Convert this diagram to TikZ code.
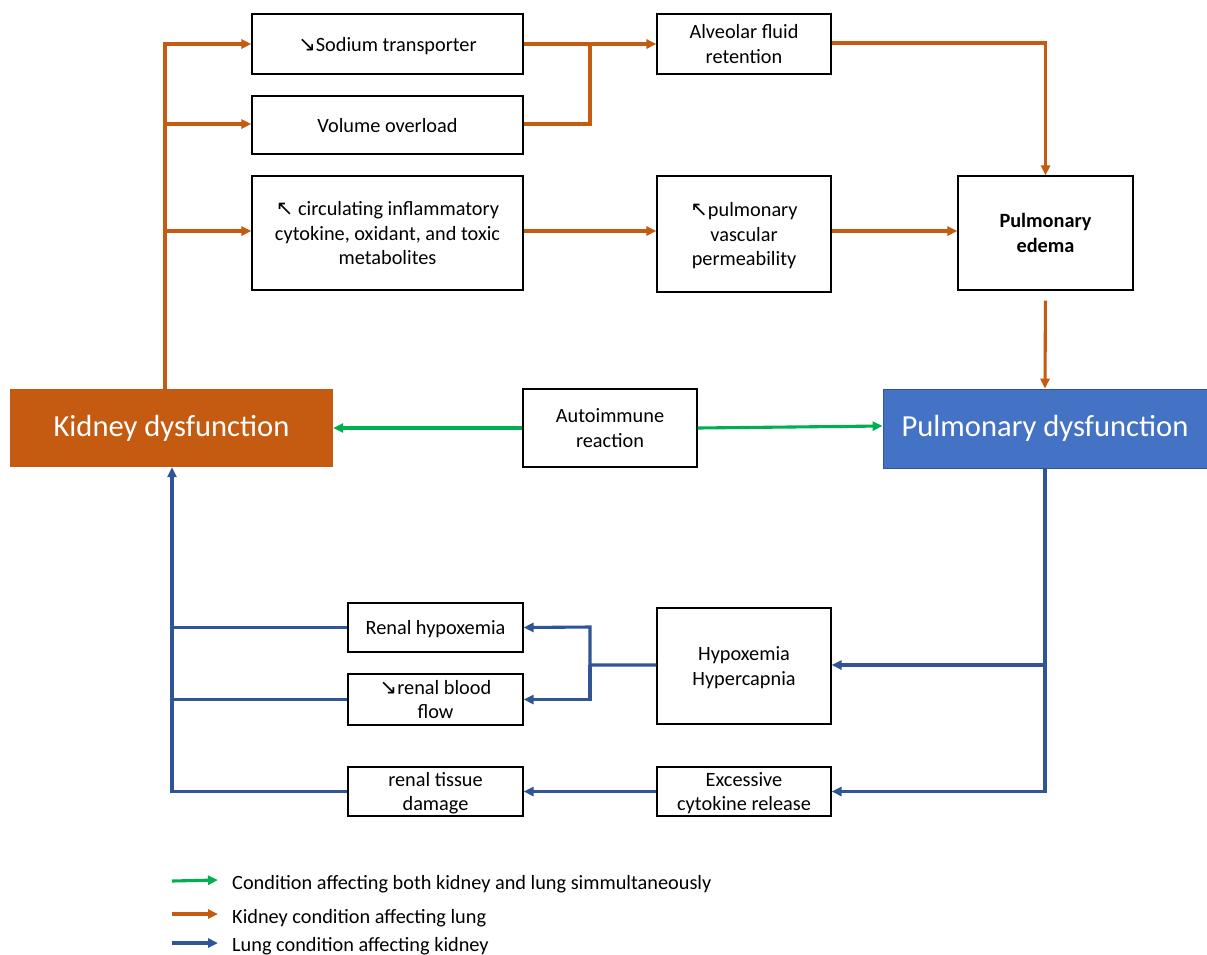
\documentclass[tikz,border=0pt]{standalone}
\usepackage{fontspec}
\setmainfont{Carlito}
\newfontfamily\symf{DejaVu Sans}
\usetikzlibrary{arrows.meta}
\definecolor{korange}{HTML}{C55A11}
\definecolor{kblue}{HTML}{4472C4}
\definecolor{lblue}{HTML}{2F5597}
\definecolor{cgreen}{HTML}{00B050}
\newcommand{\dn}{{\symf\fontsize{21}{21}\selectfont ↘}}
\newcommand{\upl}{{\symf\fontsize{21}{21}\selectfont ↖}}
\tikzset{
  box/.style={draw=black, line width=1.1pt, fill=white, align=center, inner sep=2pt, font=\fontsize{20.3}{24.5}\selectfont, text depth=0pt},
  big/.style={draw=none, align=center, text=white, font=\fontsize{30.6}{34}\selectfont},
  conn/.style={line width=3.1pt, -{Triangle[length=10pt,width=9pt]}},
  oc/.style={conn, draw=korange, color=korange},
  bc/.style={conn, draw=lblue, color=lblue},
  gc/.style={conn, draw=cgreen, color=cgreen},
  legtext/.style={anchor=west, font=\fontsize{20.3}{24}\selectfont, inner sep=0pt}
}
\begin{document}
\begin{tikzpicture}[x=1pt,y=-1pt]
\useasboundingbox (0,0) rectangle (1207,954);
% boxes
\node[box, minimum width=271pt, minimum height=60pt] (sod) at (387.5,44) {\dn Sodium transporter};
\node[box, minimum width=271pt, minimum height=58pt] (vol) at (387.5,125) {Volume overload};
\node[box, minimum width=271pt, minimum height=114pt] (circ) at (387.5,233) {\upl\ circulating inflammatory\\cytokine, oxidant, and toxic\\metabolites};
\node[box, minimum width=174pt, minimum height=60pt] (alv) at (744,44) {Alveolar fluid\\retention};
\node[box, minimum width=174pt, minimum height=116pt] (perm) at (744,234) {\upl pulmonary\\vascular\\permeability};
\node[box, minimum width=175pt, minimum height=114pt, font=\fontsize{20.3}{24.5}\selectfont\bfseries] (edema) at (1045.5,233) {Pulmonary\\edema};
\node[big, fill=korange, minimum width=323pt, minimum height=78pt] (kid) at (171.5,428) {Kidney dysfunction};
\node[box, minimum width=174pt, minimum height=78pt] (auto) at (610,428) {Autoimmune\\reaction};
\node[big, fill=kblue, draw=lblue, line width=0.8pt, minimum width=324pt, minimum height=79pt] (pul) at (1045,428.5) {Pulmonary dysfunction};
\node[box, minimum width=175pt, minimum height=49pt] (rhyp) at (435.5,627.5) {Renal hypoxemia};
\node[box, minimum width=175pt, minimum height=51pt] (rbf) at (435.5,699.5) {\dn renal blood\\flow};
\node[box, minimum width=174pt, minimum height=116pt] (hh) at (744,666) {Hypoxemia\\Hypercapnia};
\node[box, minimum width=175pt, minimum height=49pt] (rtd) at (435.5,791.5) {renal tissue\\damage};
\node[box, minimum width=174pt, minimum height=49pt] (exc) at (744,791.5) {Excessive\\cytokine release};
% orange connectors
\coordinate (kt) at (165,389);
\draw[oc] (kt) |- (sod.west);
\draw[oc] (165,124) -- (vol.west |- 0,124);
\draw[oc] (165,231) -- (circ.west |- 0,231);
\draw[oc] (sod.east |- 0,44) -- (alv.west |- 0,44);
\draw[korange, line width=3.1pt] (vol.east |- 0,124) -| (590,44);
\draw[oc] (alv.east |- 0,43) -| (edema.north);
\draw[oc] (circ.east |- 0,231) -- (perm.west |- 0,231);
\draw[oc] (perm.east |- 0,231) -- (edema.west |- 0,231);
\draw[oc, shorten <=10pt] (edema.south) -- (pul.north);
% green
\draw[gc] (auto.west) -- (kid.east);
\draw[gc] (auto.east) -- (pul.west |- 0,426);
% blue
\draw[bc] (pul.south) |- (exc.east);
\draw[bc] (1045,665) -- (hh.east |- 0,665);
\draw[bc] (hh.west |- 0,665) -| (590,627) -- (rhyp.east);
\draw[bc] (590,665) |- (rbf.east);
\draw[bc] (exc.west) -- (rtd.east);
\draw[bc] (rtd.west) -| (kid.south -| 172,0);
\draw[lblue, line width=3.1pt] (rhyp.west) -- (172,627.5);
\draw[lblue, line width=3.1pt] (rbf.west) -- (172,699.5);
% legend
\coordinate (g1) at (172,881); \coordinate (g1e) at (218,880);
\coordinate (g2) at (172,914); \coordinate (g2e) at (218,914);
\coordinate (g3) at (172,943); \coordinate (g3e) at (218,943);
\draw[gc] (g1) -- (g1e);
\draw[oc] (g2) -- (g2e);
\draw[bc] (g3) -- (g3e);
\node[legtext] (l1) at (232,884) {Condition affecting both kidney and lung simmultaneously};
\node[legtext] (l2) at (232,918) {Kidney condition affecting lung};
\node[legtext] (l3) at (232,946) {Lung condition affecting kidney};
\end{tikzpicture}
\end{document}
